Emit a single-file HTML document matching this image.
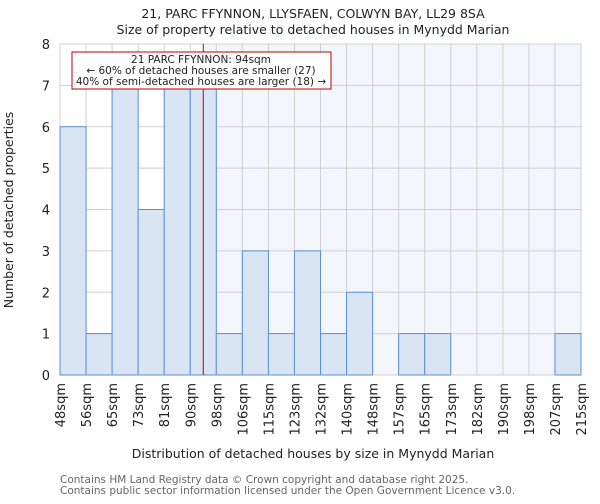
<!DOCTYPE html>
<html><head><meta charset="utf-8"><style>
body{margin:0;background:#fff;font-family:"DejaVu Sans","Liberation Sans",sans-serif;}
svg text{font-family:"DejaVu Sans","Liberation Sans",sans-serif;}
</style></head><body>
<svg id="c" width="600" height="500" xmlns="http://www.w3.org/2000/svg">
<text x="313" y="18" text-anchor="middle" font-size="12.5" fill="#222">21, PARC FFYNNON, LLYSFAEN, COLWYN BAY, LL29 8SA</text>
<text x="313" y="34" text-anchor="middle" font-size="12.5" fill="#222">Size of property relative to detached houses in Mynydd Marian</text>
<g id="plot"></g>
<text x="313" y="458" text-anchor="middle" font-size="12.5" fill="#222">Distribution of detached houses by size in Mynydd Marian</text>
<text transform="translate(13,210) rotate(-90)" text-anchor="middle" font-size="12.5" fill="#222">Number of detached properties</text>
<text x="60" y="483" font-size="10.5" fill="#666">Contains HM Land Registry data © Crown copyright and database right 2025.</text>
<text x="60" y="494" font-size="10.5" fill="#666">Contains public sector information licensed under the Open Government Licence v3.0.</text>
</svg>
<script>
const binLabels=["48sqm","56sqm","65sqm","73sqm","81sqm","90sqm","98sqm","106sqm","115sqm","123sqm","132sqm","140sqm","148sqm","157sqm","165sqm","173sqm","182sqm","190sqm","198sqm","207sqm","215sqm"];
const counts=[6,1,7,4,7,7,1,3,1,3,1,2,0,1,1,0,0,0,0,1];
const yTicks=[0,1,2,3,4,5,6,7,8];
const propertyBin=5.5;
const X0=60,X1=581,Y0=375,Y1=44,YMAX=8;
const n=counts.length;
const xs=i=>X0+(X1-X0)*i/n;
const ys=v=>Y0-(Y0-Y1)*v/YMAX;
const NS="http://www.w3.org/2000/svg";
const g=document.getElementById('plot');
function mk(t,a){const e=document.createElementNS(NS,t);for(const k in a)e.setAttribute(k,a[k]);g.appendChild(e);return e;}
const px=xs(propertyBin);
let bg=mk('rect',{x:px,y:Y1,width:X1-px,height:Y0-Y1,fill:'#f3f6fd'});


for(let i=0;i<=n;i++){let l=mk('line',{x1:xs(i),x2:xs(i),y1:Y1,y2:Y0,stroke:'#d0d0d0','stroke-width':1});

}
yTicks.forEach(v=>{let l=mk('line',{x1:X0,x2:X1,y1:ys(v),y2:ys(v),stroke:'#d0d0d0','stroke-width':1});


let t=mk('text',{x:X0-10,y:ys(v)+5,'text-anchor':'end','font-size':13,fill:'#222'});t.textContent=v;

});
counts.forEach((c,i)=>{if(c<=0)return;let r=mk('rect',{x:xs(i),y:ys(c),width:xs(i+1)-xs(i),height:Y0-ys(c),fill:'#dae5f4',stroke:'#5b8fd6','stroke-width':1});

});
binLabels.forEach((s,i)=>{let t=mk('text',{transform:`translate(${xs(i)+5},${Y0+8}) rotate(-90)`,'text-anchor':'end','font-size':13,fill:'#222'});t.textContent=s;

});
let pl=mk('line',{x1:px,x2:px,y1:Y1,y2:Y0,stroke:'#c00000','stroke-width':1});


let box=mk('rect',{x:72,y:52,width:259,height:37,fill:'#fff',stroke:'#c00000','stroke-width':1});


[["21 PARC FFYNNON: 94sqm",63],["← 60% of detached houses are smaller (27)",74],["40% of semi-detached houses are larger (18) →",85]].forEach(([s,y])=>{let t=mk('text',{x:201,y:y,'text-anchor':'middle','font-size':10.5,fill:'#222'});t.textContent=s;

});
</script>
</body></html>
